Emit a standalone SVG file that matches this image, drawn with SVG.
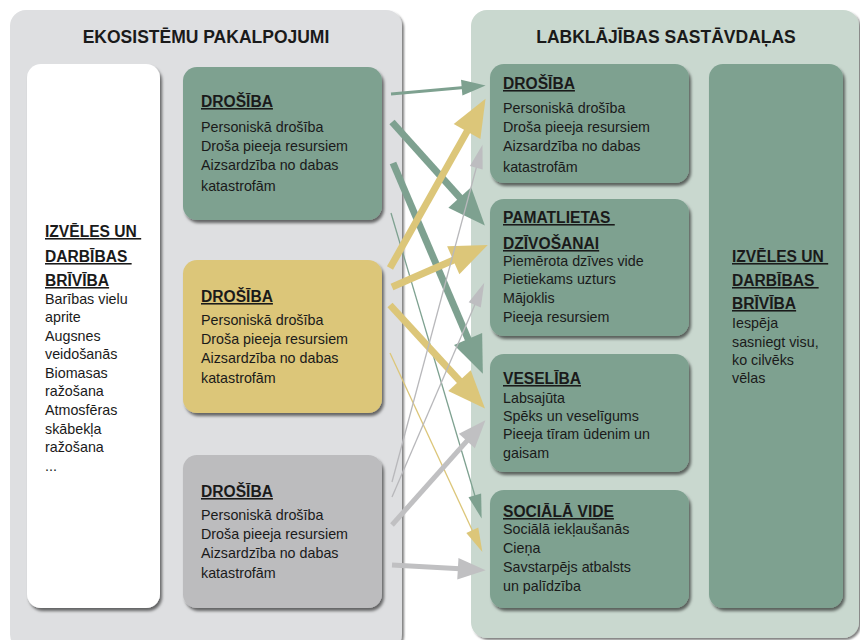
<svg xmlns="http://www.w3.org/2000/svg" width="860" height="640" viewBox="0 0 860 640">
<defs>
<filter id="sh" x="-10%" y="-10%" width="125%" height="125%">
<feDropShadow dx="2" dy="3" stdDeviation="1.5" flood-color="#000" flood-opacity="0.55"/>
</filter>
<filter id="psh" x="-5%" y="-5%" width="110%" height="110%">
<feDropShadow dx="2" dy="2" stdDeviation="1.2" flood-color="#000" flood-opacity="0.5"/>
</filter>
<marker id="gT" markerUnits="userSpaceOnUse" markerWidth="40" markerHeight="40" viewBox="-2 -14 34 28" refX="0" refY="0" orient="auto" overflow="visible"><path d="M-2,-13 L30,0 L-2,13 Z" fill="#7ea190"/></marker>
<marker id="yT" markerUnits="userSpaceOnUse" markerWidth="40" markerHeight="40" viewBox="-2 -14 34 28" refX="0" refY="0" orient="auto" overflow="visible"><path d="M-2,-13 L30,0 L-2,13 Z" fill="#dcc679"/></marker>
<marker id="gM" markerUnits="userSpaceOnUse" markerWidth="24" markerHeight="24" viewBox="-2 -7 20 14" refX="0" refY="0" orient="auto" overflow="visible"><path d="M-2,-6.5 L18,0 L-2,6.5 Z" fill="#7ea190"/></marker>
<marker id="gS" markerUnits="userSpaceOnUse" markerWidth="24" markerHeight="24" viewBox="-2 -6 20 12" refX="0" refY="0" orient="auto" overflow="visible"><path d="M-2,-5.5 L18,0 L-2,5.5 Z" fill="#7ea190"/></marker>
<marker id="yS" markerUnits="userSpaceOnUse" markerWidth="24" markerHeight="24" viewBox="-2 -6 20 12" refX="0" refY="0" orient="auto" overflow="visible"><path d="M-2,-5.5 L18,0 L-2,5.5 Z" fill="#dcc679"/></marker>
<marker id="aS" markerUnits="userSpaceOnUse" markerWidth="24" markerHeight="24" viewBox="-2 -6 20 12" refX="0" refY="0" orient="auto" overflow="visible"><path d="M-2,-5.5 L18,0 L-2,5.5 Z" fill="#bdbdc0"/></marker>
<marker id="aT" markerUnits="userSpaceOnUse" markerWidth="30" markerHeight="30" viewBox="-2 -10 28 20" refX="0" refY="0" orient="auto" overflow="visible"><path d="M-2,-10 L24,0 L-2,10 Z" fill="#c0c0c2"/></marker>
</defs>
<style>
text{font-family:"Liberation Sans",Arial,sans-serif;fill:#1a1a1a;}
.hd{font-size:17.5px;font-weight:bold;text-anchor:middle;}
.tt{font-size:15.6px;font-weight:bold;text-decoration:underline;}
.bd{font-size:14.3px;}
.green{fill:#7ea190;}
.yellow{fill:#dcc679;}
.grey{fill:#bcbcbe;}
.white{fill:#ffffff;}
.ln{fill:none;stroke-linecap:butt;}
</style>
<rect width="860" height="640" fill="#ffffff"/>

<g id="panel-left">
<rect x="10" y="10" width="392" height="640" rx="16" fill="#dedfe1" filter="url(#psh)"/>
<text class="hd" x="206" y="43">EKOSISTĒMU PAKALPOJUMI</text>
</g>
<g id="panel-right">
<rect x="471" y="10" width="388" height="628" rx="16" fill="#c9d8cf" filter="url(#psh)"/>
<text class="hd" x="666" y="43">LABKLĀJĪBAS SASTĀVDAĻAS</text>
</g>

<g id="left-choice">
<rect class="white" x="27" y="64" width="133" height="544" rx="14" filter="url(#sh)"/>
<text class="tt" x="45" y="237">IZVĒLES UN&#160;</text>
<text class="tt" x="45" y="262">DARBĪBAS&#160;</text>
<text class="tt" x="45" y="286">BRĪVĪBA</text>
<text class="bd" x="45" y="304">Barības vielu</text>
<text class="bd" x="45" y="322">aprite</text>
<text class="bd" x="45" y="341">Augsnes</text>
<text class="bd" x="45" y="359">veidošanās</text>
<text class="bd" x="45" y="378">Biomasas</text>
<text class="bd" x="45" y="396">ražošana</text>
<text class="bd" x="45" y="415">Atmosfēras</text>
<text class="bd" x="45" y="434">skābekļa</text>
<text class="bd" x="45" y="452">ražošana</text>
<text class="bd" x="45" y="471">...</text>
</g>

<g id="left-green">
<rect class="green" x="183" y="67" width="199" height="153" rx="14" filter="url(#sh)"/>
<text class="tt" x="201" y="107">DROŠĪBA</text>
<text class="bd" x="201" y="132">Personiskā drošība</text>
<text class="bd" x="201" y="151">Droša pieeja resursiem</text>
<text class="bd" x="201" y="170">Aizsardzība no dabas</text>
<text class="bd" x="201" y="191">katastrofām</text>
</g>

<g id="left-yellow">
<rect class="yellow" x="183" y="260" width="199" height="153" rx="14" filter="url(#sh)"/>
<text class="tt" x="201" y="302">DROŠĪBA</text>
<text class="bd" x="201" y="325">Personiskā drošība</text>
<text class="bd" x="201" y="344">Droša pieeja resursiem</text>
<text class="bd" x="201" y="363">Aizsardzība no dabas</text>
<text class="bd" x="201" y="383">katastrofām</text>
</g>

<g id="left-grey">
<rect class="grey" x="183" y="455" width="199" height="153" rx="14" filter="url(#sh)"/>
<text class="tt" x="201" y="497">DROŠĪBA</text>
<text class="bd" x="201" y="520">Personiskā drošība</text>
<text class="bd" x="201" y="539">Droša pieeja resursiem</text>
<text class="bd" x="201" y="558">Aizsardzība no dabas</text>
<text class="bd" x="201" y="578">katastrofām</text>
</g>

<g id="right-drosiba">
<rect class="green" x="490" y="64" width="199" height="119" rx="14" filter="url(#sh)"/>
<text class="tt" x="503" y="89">DROŠĪBA</text>
<text class="bd" x="503" y="113">Personiskā drošība</text>
<text class="bd" x="503" y="132">Droša pieeja resursiem</text>
<text class="bd" x="503" y="151">Aizsardzība no dabas</text>
<text class="bd" x="503" y="172">katastrofām</text>
</g>

<g id="right-pamatlietas">
<rect class="green" x="490" y="199" width="199" height="137" rx="14" filter="url(#sh)"/>
<text class="tt" x="503" y="223">PAMATLIETAS&#160;</text>
<text class="tt" x="503" y="249">DZĪVOŠANAI</text>
<text class="bd" x="503" y="266">Piemērota dzīves vide</text>
<text class="bd" x="503" y="284">Pietiekams uzturs</text>
<text class="bd" x="503" y="303">Mājoklis</text>
<text class="bd" x="503" y="322">Pieeja resursiem</text>
</g>

<g id="right-veseliba">
<rect class="green" x="490" y="354" width="199" height="118" rx="14" filter="url(#sh)"/>
<text class="tt" x="503" y="384">VESELĪBA</text>
<text class="bd" x="503" y="403">Labsajūta</text>
<text class="bd" x="503" y="421">Spēks un veselīgums</text>
<text class="bd" x="503" y="439">Pieeja tīram ūdenim un</text>
<text class="bd" x="503" y="458">gaisam</text>
</g>

<g id="right-sociala">
<rect class="green" x="490" y="490" width="199" height="118" rx="14" filter="url(#sh)"/>
<text class="tt" x="503" y="517">SOCIĀLĀ VIDE</text>
<text class="bd" x="503" y="534">Sociālā iekļaušanās</text>
<text class="bd" x="503" y="553">Cieņa</text>
<text class="bd" x="503" y="572">Savstarpējs atbalsts</text>
<text class="bd" x="503" y="591">un palīdzība</text>
</g>

<g id="right-choice">
<rect class="green" x="709" y="64" width="134" height="544" rx="14" filter="url(#sh)"/>
<text class="tt" x="732" y="262">IZVĒLES UN&#160;</text>
<text class="tt" x="732" y="286">DARBĪBAS&#160;</text>
<text class="tt" x="732" y="309">BRĪVĪBA</text>
<text class="bd" x="732" y="328">Iespēja</text>
<text class="bd" x="732" y="347">sasniegt visu,</text>
<text class="bd" x="732" y="365">ko cilvēks</text>
<text class="bd" x="732" y="383">vēlas</text>
</g>

<g id="connectors" class="ln">
<line x1="391" y1="94" x2="464.1" y2="87.4" stroke="#7ea190" stroke-width="3" marker-end="url(#gM)"/>
<line x1="392" y1="122" x2="461.3" y2="199.2" stroke="#7ea190" stroke-width="7" marker-end="url(#gT)"/>
<line x1="393" y1="163" x2="469.0" y2="341.2" stroke="#7ea190" stroke-width="7" marker-end="url(#gT)"/>
<line x1="391" y1="213" x2="475.5" y2="497.7" stroke="#7ea190" stroke-width="1.3" marker-end="url(#gS)"/>
<line x1="390" y1="268" x2="468.2" y2="129.4" stroke="#dcc679" stroke-width="7" marker-end="url(#yT)"/>
<line x1="392" y1="287" x2="455.4" y2="259.2" stroke="#dcc679" stroke-width="7" marker-end="url(#yT)"/>
<line x1="390" y1="305" x2="461.1" y2="382.4" stroke="#dcc679" stroke-width="7" marker-end="url(#yT)"/>
<line x1="390" y1="353" x2="473.3" y2="532.5" stroke="#dcc679" stroke-width="1.3" marker-end="url(#yS)"/>
<line x1="392" y1="482" x2="476.9" y2="165.5" stroke="#b8b8bb" stroke-width="1.3" marker-end="url(#aS)"/>
<line x1="392" y1="497" x2="475.7" y2="302.7" stroke="#b8b8bb" stroke-width="1.3" marker-end="url(#aS)"/>
<line x1="392" y1="525" x2="468.3" y2="439.4" stroke="#c0c0c2" stroke-width="5" marker-end="url(#aT)"/>
<line x1="392" y1="565" x2="460.0" y2="568.8" stroke="#c0c0c2" stroke-width="5" marker-end="url(#aT)"/>
</g>
</svg>
